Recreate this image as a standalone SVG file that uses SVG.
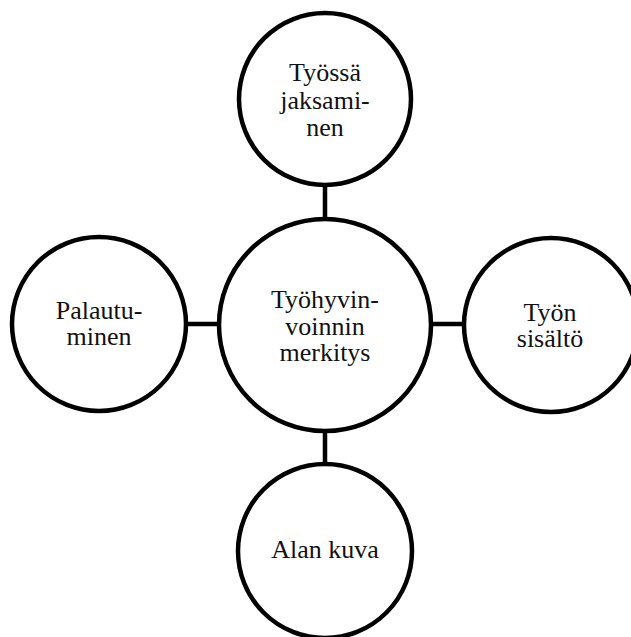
<svg xmlns="http://www.w3.org/2000/svg" width="631" height="637" viewBox="0 0 631 637">
<style>
.c{fill:#fff;stroke:#000;stroke-width:4.5}
.l{stroke:#000;stroke-width:4.5;fill:none}
.t{font-family:"Liberation Serif","Times New Roman",serif;font-size:26px;fill:#111;text-anchor:middle}
</style>
<rect width="631" height="637" fill="#fff"/>
<g id="connectors">
<line class="l" x1="325" y1="184" x2="325" y2="220"/>
<line class="l" x1="184" y1="324" x2="220" y2="324"/>
<line class="l" x1="430" y1="324" x2="466" y2="324"/>
<line class="l" x1="325" y1="430" x2="325" y2="466"/>
</g>
<g id="center">
<circle class="c" cx="325" cy="325" r="106"/>
<text class="t" x="325" y="308">Työhyvin-</text>
<text class="t" x="325" y="335">voinnin</text>
<text class="t" x="325" y="361">merkitys</text>
</g>
<g id="top">
<circle class="c" cx="325" cy="99" r="86"/>
<text class="t" x="325" y="81">Työssä</text>
<text class="t" x="325" y="109">jaksami-</text>
<text class="t" x="325" y="136">nen</text>
</g>
<g id="left">
<circle class="c" cx="99" cy="324" r="87"/>
<text class="t" x="99" y="319">Palautu-</text>
<text class="t" x="99" y="345">minen</text>
</g>
<g id="right">
<circle class="c" cx="551" cy="325" r="87"/>
<text class="t" x="550" y="321">Työn</text>
<text class="t" x="550" y="347">sisältö</text>
</g>
<g id="bottom">
<circle class="c" cx="325" cy="551" r="87"/>
<text class="t" x="325" y="558">Alan kuva</text>
</g>
</svg>
